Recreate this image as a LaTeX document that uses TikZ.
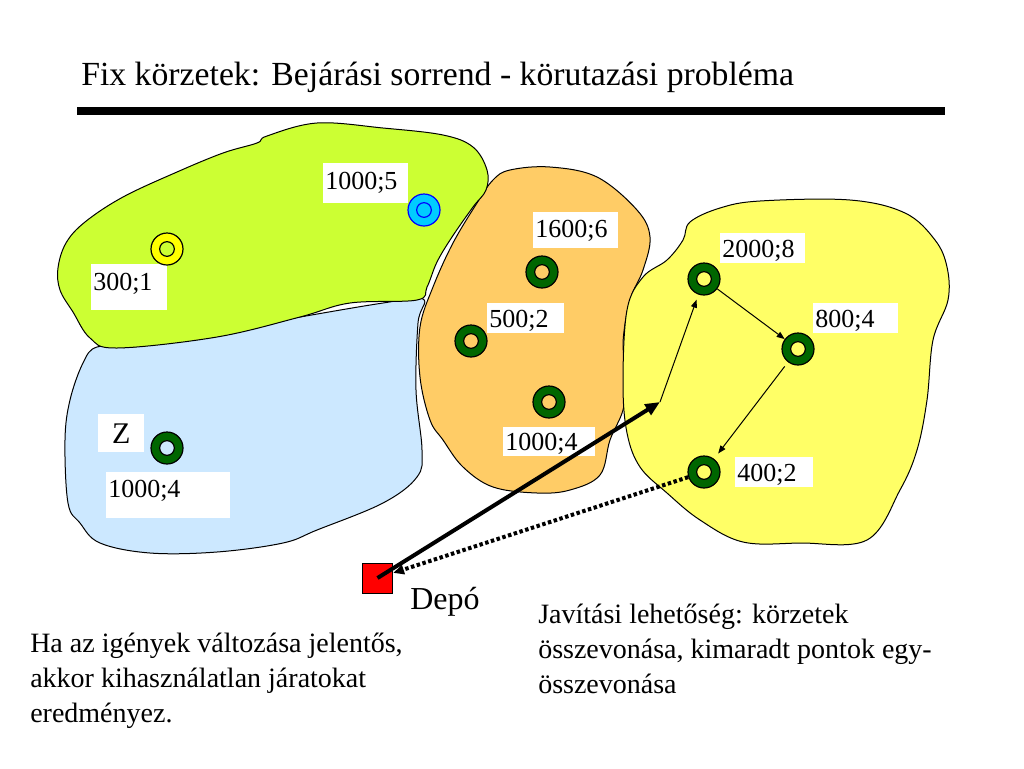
\documentclass[tikz,border=0pt]{standalone}
\usepackage{fontspec}
\setmainfont{Liberation Serif}
\usetikzlibrary{arrows.meta}
\definecolor{blobgreen}{RGB}{204,255,51}
\definecolor{blobblue}{RGB}{204,232,255}
\definecolor{bloborange}{RGB}{255,204,102}
\definecolor{blobyellow}{RGB}{255,255,102}
\definecolor{ringgreen}{RGB}{0,102,0}
\definecolor{ringcyan}{RGB}{0,204,255}
\definecolor{ringyellow}{RGB}{255,255,0}
\definecolor{depotred}{RGB}{255,0,0}
\begin{document}
\begin{tikzpicture}[x=0.75pt,y=-0.75pt,
  blob/.style={draw=black, line width=0.75pt},
  ring/.style n args={3}{circle, draw=#3, line width=0.9pt, fill=#1, minimum size=24pt, inner sep=0pt,
     path picture={\draw[#3, fill=#2, line width=0.9pt] (path picture bounding box.center) circle (5.5pt);}},
  lbl/.style={fill=white, inner xsep=1.5pt, inner ysep=0pt, anchor=north west, align=left,
     font=\fontsize{19.5}{22}\selectfont},
  txt/.style={anchor=base west, inner sep=0pt},
  thickarr/.style={line width=3pt, -{Triangle[length=11pt,width=9pt]}},
  thinarr/.style={line width=0.75pt, -{Triangle[length=6pt,width=4.5pt]}},
  dotarr/.style={line width=3pt, dash pattern=on 2.6pt off 1.9pt, -{Triangle[length=8pt,width=7pt]}}
]
\useasboundingbox (0,0) rectangle (1024,768);
\fill[white] (0,0) rectangle (1024,768);

% title and rule
\node[txt, font=\fontsize{25.3}{30}\selectfont] (title) at (81,85) {Fix körzetek: Bejárási sorrend - körutazási probléma};
\draw[line width=6pt] (77,111) -- (945,111);

% regions
\draw[blob, fill=blobblue] plot[smooth cycle, tension=0.6] coordinates {
 (83,363) (97,347) (133,347) (200,335) (283,320) (383,303) (423,299) (418,323) (416,390)
 (422,450) (417,477) (383,503) (317,530) (283,543) (217,552) (150,553) (100,543) (80,523)
 (68,503) (65,440) (70,400)};
\draw[blob, fill=bloborange] plot[smooth cycle, tension=0.6] coordinates {
 (477,203) (493,180) (510,170) (550,167) (597,177) (637,210) (650,237) (643,270) (630,300)
 (623,343) (627,377) (623,410) (610,440) (600,475) (570,490) (537,493) (493,487) (463,467)
 (443,440) (430,420) (420,377) (420,327) (433,287) (453,243)};
\draw[blob, fill=blobyellow] plot[smooth cycle, tension=0.6] coordinates {
 (690,222) (720,208) (760,201) (850,200) (905,213) (935,240) (947,267) (948,300) (933,340)
 (927,400) (917,450) (900,490) (867,540) (800,543) (743,542) (700,520) (667,493) (640,467)
 (627,433) (623,383) (627,310) (643,277) (667,260) (683,240)};
\draw[blob, fill=blobgreen] plot[smooth cycle, tension=0.6] coordinates {
 (58,268) (66,243) (85,222) (123,197) (177,172) (223,153) (257,143) (267,136) (317,123)
 (383,128) (443,135) (473,147) (487,170) (486,190) (473,207) (452,237) (437,262) (427,287)
 (417,300) (350,303) (300,317) (217,337) (117,348) (90,338) (73,312) (60,290)};

% labels
\node[lbl, text width=54pt, text height=19.5pt, text depth=15pt] (l300) at (91,264) {300;1};
\node[lbl, text width=60.75pt, text height=19.5pt, text depth=10.5pt] (l1000a) at (323,163) {1000;5};
\node[lbl, text width=60.75pt, text height=18.75pt, text depth=8.25pt] (l1600) at (533,212) {1600;6};
\node[lbl, text width=54.75pt, text height=18pt, text depth=4.5pt] (l500) at (487,303) {500;2};
\node[lbl, text width=66pt, text height=17.25pt, text depth=4.5pt] (l1000b) at (503,427) {1000;4};
\node[lbl, text width=60.75pt, text height=18pt, text depth=4.5pt] (l2000) at (720,233) {2000;8};
\node[lbl, text width=60.75pt, text height=18pt, text depth=4.5pt] (l800) at (813,303) {800;4};
\node[lbl, text width=55.5pt, text height=18pt, text depth=4.5pt] (l400) at (735,457) {400;2};
\node[lbl, align=center, text width=31.5pt, text height=21.75pt, text depth=6.75pt,
      font=\fontsize{22.5}{26}\selectfont] (lz) at (98,414) {Z};
\node[lbl, text width=90pt, text height=18.75pt, text depth=15.75pt] (lz1000) at (106,472) {1000;4};

% customer points
\node[ring={ringyellow}{blobgreen}{black}] (n300) at (167,249) {};
\node[ring={ringcyan}{ringcyan}{blue}] (n1000a) at (424,210) {};
\node[ring={ringgreen}{bloborange}{black}] (n1600) at (542,272) {};
\node[ring={ringgreen}{bloborange}{black}] (n500) at (471,341) {};
\node[ring={ringgreen}{bloborange}{black}] (n1000b) at (549,402) {};
\node[ring={ringgreen}{blobyellow}{black}] (n2000) at (704,279) {};
\node[ring={ringgreen}{blobyellow}{black}] (n800) at (798,349) {};
\node[ring={ringgreen}{blobyellow}{black}] (n400) at (704,472) {};
\node[ring={ringgreen}{blobblue}{black}] (nz) at (167,448) {};

% depot
\node[draw=black, line width=0.75pt, fill=depotred, minimum width=23pt, minimum height=22.5pt, inner sep=0pt] (depot) at (377.5,578) {};
\node[txt, font=\fontsize{24}{28}\selectfont] (deplbl) at (410,609) {Depó};

% route
\coordinate (turn) at (660,402);
\draw[thickarr] (depot.center) -- (turn);
\draw[thinarr, shorten >=4pt] (turn) -- (n2000);
\draw[thinarr] (n2000) -- (n800);
\draw[thinarr, shorten <=4pt, shorten >=5pt] (n800) -- (n400);
\draw[dotarr] (n400) -- (depot);

% notes
\node[txt, font=\fontsize{21}{26.6}\selectfont] (note1) at (30,652)
  {\begin{tabular}[t]{@{}l@{}}Ha az igények változása jelentős,\\akkor kihasználatlan járatokat\\eredményez.\end{tabular}};
\node[txt, font=\fontsize{21}{26.25}\selectfont] (note2) at (538,623)
  {\begin{tabular}[t]{@{}l@{}}Javítási lehetőség: körzetek\\összevonása, kimaradt pontok egy-\\összevonása\end{tabular}};
\end{tikzpicture}
\end{document}
